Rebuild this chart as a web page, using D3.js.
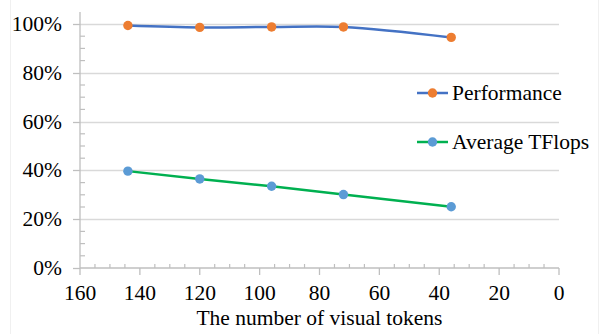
<!DOCTYPE html>
<html>
<head>
<meta charset="utf-8">
<script src="https://cdn.jsdelivr.net/npm/d3@7"></script>
<style>
  html, body { margin: 0; padding: 0; background: #fff; }
  svg { display: block; }
</style>
</head>
<body>
<svg id="chart" width="600" height="334"></svg>
<script>
// Visual token counts on the x axis
const tokens = [144, 120, 96, 72, 36];
// Relative performance (%)
const performance = [99.4, 98.6, 98.8, 98.8, 94.5];
// Average TFlops relative to the full model (%)
const tflops = [39.7, 36.5, 33.5, 30.1, 25.1];

const seriesNames = ["Performance", "Average TFlops"];
const xTicks = [160, 140, 120, 100, 80, 60, 40, 20, 0];
const yTicks = [0, 20, 40, 60, 80, 100];

const FONT = '"Liberation Serif", "Times New Roman", serif';
const FS = 21.5;

const svg = d3.select("#chart");
const W = 600, H = 334;
const m = { left: 80, right: 41, top: 24, bottom: 66 };

const x = d3.scaleLinear().domain([160, 0]).range([m.left, W - m.right]);
const y = d3.scaleLinear().domain([0, 100]).range([H - m.bottom, m.top]);

// faint chart-area border edges
svg.append("line").attr("x1", 10.5).attr("x2", 10.5).attr("y1", 0).attr("y2", H)
  .attr("stroke", "#f0f0f0").attr("stroke-width", 1);
svg.append("line").attr("x1", 598.5).attr("x2", 598.5).attr("y1", 0).attr("y2", H)
  .attr("stroke", "#f0f0f0").attr("stroke-width", 1);

// horizontal gridlines
svg.append("g").selectAll("line").data(yTicks.filter(d => d > 0)).join("line")
  .attr("x1", x(160)).attr("x2", x(0))
  .attr("y1", d => Math.round(y(d)) + 0.5).attr("y2", d => Math.round(y(d)) + 0.5)
  .attr("stroke", "#d9d9d9").attr("stroke-width", 1.3);

const axisColor = "#bfbfbf";

function label(sel) {
  return sel.style("font-family", FONT).style("font-size", FS + "px").attr("fill", "#000");
}

// y axis: minor ticks inside, major ticks outside
const yAxis = svg.append("g").attr("transform", `translate(${x(160)},0)`);
yAxis.append("line").attr("y1", y(100) - 12).attr("y2", y(0))
  .attr("stroke", axisColor).attr("stroke-width", 1.3);
yAxis.selectAll(".minor").data(d3.range(0, 105, 5).filter(d => d % 20 !== 0)).join("line")
  .attr("x1", 0).attr("x2", 5)
  .attr("y1", d => y(d)).attr("y2", d => y(d))
  .attr("stroke", axisColor).attr("stroke-width", 1.2);
yAxis.selectAll(".major").data(yTicks).join("line")
  .attr("x1", -7).attr("x2", 0)
  .attr("y1", d => Math.round(y(d)) + 0.5).attr("y2", d => Math.round(y(d)) + 0.5)
  .attr("stroke", axisColor).attr("stroke-width", 1.3);
label(yAxis.selectAll("text").data(yTicks).join("text")
  .attr("x", -18).attr("y", d => y(d) + 7)
  .attr("text-anchor", "end"))
  .text(d => d + "%");

// x axis: minor ticks inside (up), major ticks outside (down)
const xAxis = svg.append("g").attr("transform", `translate(0,${y(0)})`);
xAxis.append("line").attr("x1", x(160)).attr("x2", x(0))
  .attr("stroke", axisColor).attr("stroke-width", 1.3);
xAxis.selectAll(".minor").data(d3.range(0, 165, 5).filter(d => d % 20 !== 0)).join("line")
  .attr("x1", d => x(d)).attr("x2", d => x(d))
  .attr("y1", -4).attr("y2", 0)
  .attr("stroke", axisColor).attr("stroke-width", 1.2);
xAxis.selectAll(".major").data(xTicks).join("line")
  .attr("x1", d => x(d)).attr("x2", d => x(d))
  .attr("y1", 0).attr("y2", 7)
  .attr("stroke", axisColor).attr("stroke-width", 1.3);
label(xAxis.selectAll("text").data(xTicks).join("text")
  .attr("x", d => x(d)).attr("y", 32)
  .attr("text-anchor", "middle"))
  .text(d => d);

// axis title
label(svg.append("text")
  .attr("x", (x(160) + x(0)) / 2).attr("y", 325)
  .attr("text-anchor", "middle"))
  .text("The number of visual tokens");

const series = [
  { name: seriesNames[0], values: performance, line: "#4472c4", marker: "#ed7d31",
    curve: d3.curveCatmullRom.alpha(0.5) },
  { name: seriesNames[1], values: tflops, line: "#00b050", marker: "#5b9bd5",
    curve: d3.curveLinear }
];

series.forEach(s => {
  const pts = tokens.map((t, i) => [t, s.values[i]]);
  const line = d3.line().x(d => x(d[0])).y(d => y(d[1])).curve(s.curve);
  svg.append("path").datum(pts)
    .attr("d", line).attr("fill", "none")
    .attr("stroke", s.line).attr("stroke-width", 2.5);
  svg.append("g").selectAll("circle").data(pts).join("circle")
    .attr("cx", d => x(d[0])).attr("cy", d => y(d[1])).attr("r", 4.7)
    .attr("fill", s.marker);
});

// legend
const legend = svg.append("g");
series.forEach((s, i) => {
  const ly = 93 + i * 49;
  legend.append("line").attr("x1", 417).attr("x2", 448).attr("y1", ly).attr("y2", ly)
    .attr("stroke", s.line).attr("stroke-width", 2.5);
  legend.append("circle").attr("cx", 432.5).attr("cy", ly).attr("r", 4.7).attr("fill", s.marker);
  label(legend.append("text").attr("x", 452).attr("y", ly + 7)).text(s.name);
});
</script>
</body>
</html>
